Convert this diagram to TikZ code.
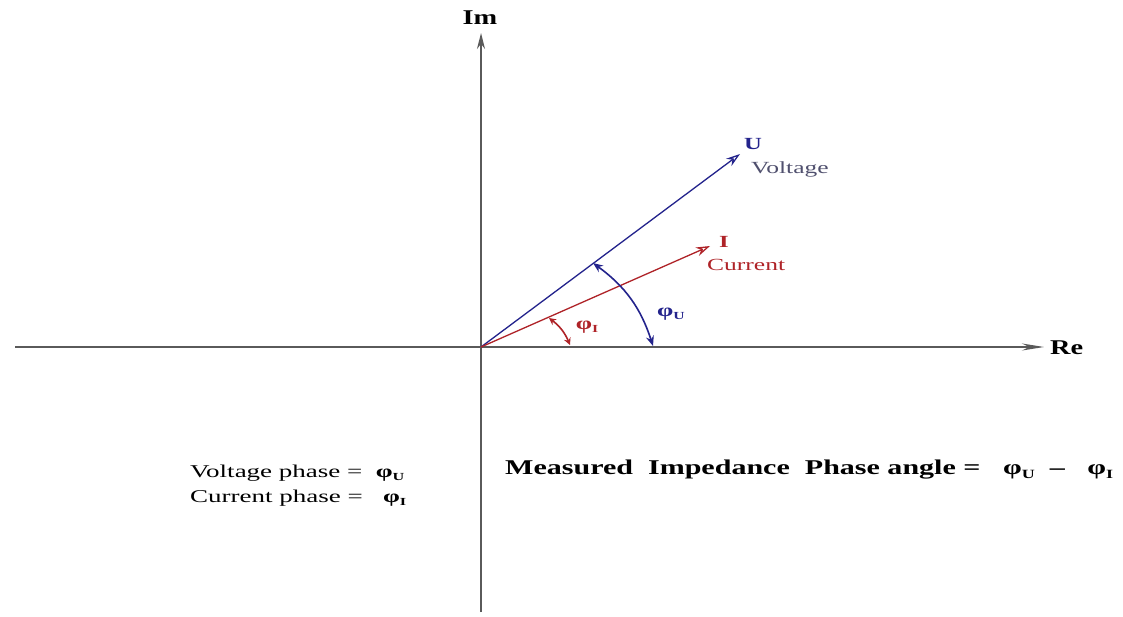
\documentclass[tikz,border=0pt]{standalone}
\usepackage{graphicx}
\usepackage{fontspec}
\setmainfont{Liberation Serif}
\usetikzlibrary{arrows.meta}
\definecolor{axisgray}{RGB}{90,90,90}
\definecolor{vblue}{RGB}{35,35,140}
\definecolor{ired}{RGB}{175,35,40}
\definecolor{vtext}{RGB}{80,80,110}
\newcommand{\wide}[2][1.45]{\scalebox{#1}[1]{#2}}
\newcommand{\phs}[1]{\textbf{φ}\raisebox{-0.35ex}{\fontsize{0.6em}{0.6em}\selectfont\bfseries #1}}
\tikzset{
  axis/.style={draw=axisgray, line width=1.6pt},
  vecU/.style={draw=vblue, line width=1.3pt, -{Stealth[length=14pt,width=9pt,open]}},
  vecI/.style={draw=ired, line width=1.3pt, -{Stealth[length=14pt,width=9pt,open]}},
  lbl/.style={inner sep=0pt, font=\fontsize{18}{20}\selectfont},
  biglbl/.style={inner sep=0pt, font=\fontsize{21}{23}\selectfont\bfseries},
}
\begin{document}
\begin{tikzpicture}[x=1pt,y=-1pt]
\useasboundingbox[fill=white] (0,0) rectangle (1123,616);
\coordinate (O) at (481,347);
\coordinate (xl) at (15,347);
\coordinate (xr) at (1044,347);
\coordinate (yb) at (481,612);
\coordinate (yt) at (481,33);
\coordinate (Ut) at (740,154);
\coordinate (It) at (710,246);
\coordinate (Ua) at (593,263);
\coordinate (Ub) at (653,346);
\coordinate (Ia) at (549,318);
\coordinate (Ib) at (570,345);
% axes
\draw[axis, -{Stealth[length=22pt,width=7pt]}] (xl) -- (xr);
\draw[axis, -{Stealth[length=16pt,width=8pt]}] (yb) -- (yt);
\node[biglbl, anchor=west] (re) at (1050,348) {\wide[1.35]{Re}};
\node[biglbl] (im) at (480,18) {\wide[1.35]{Im}};
% vectors
\draw[vecU] (O) -- (Ut);
\draw[vecI] (O) -- (It);
\node[biglbl, text=vblue] (u) at (753,144) {\wide{\fontsize{17}{19}\selectfont U}};
\node[lbl, text=vtext, anchor=west] (volt) at (751,169) {\wide[1.5]{\fontsize{17}{19}\selectfont Voltage}};
\node[biglbl, text=ired] (i) at (724,242) {\wide{\fontsize{17}{19}\selectfont I}};
\node[lbl, text=ired, anchor=west] (curr) at (707,265) {\wide[1.5]{\fontsize{17}{19}\selectfont Current}};
% angle arcs
\draw[draw=vblue, line width=1.6pt, {Stealth[length=10pt,width=8pt]}-{Stealth[length=10pt,width=8pt]}] (Ua) to[bend left=18] (Ub);
\draw[draw=ired, line width=1.6pt, {Stealth[length=7pt,width=7pt]}-{Stealth[length=7pt,width=7pt]}] (Ia) to[bend left=15] (Ib);
\node[lbl, text=vblue] (phu) at (671,314) {\wide{\phs{U}}};
\node[lbl, text=ired] (phi) at (587,327) {\wide{\phs{I}}};
% texts
\node[lbl, anchor=west] (vph) at (190,473) {\wide[1.5]{Voltage phase = \ \phs{U}}};
\node[lbl, anchor=west] (cph) at (190,498) {\wide[1.5]{Current phase = \ \ \phs{I}}};
\node[biglbl, anchor=west] (meas) at (505,470) {\wide[1.43]{Measured\ \ Impedance\ \ Phase angle = \ \ \phs{U}\ \ –\ \ \ \phs{I}}};
\end{tikzpicture}
\end{document}
